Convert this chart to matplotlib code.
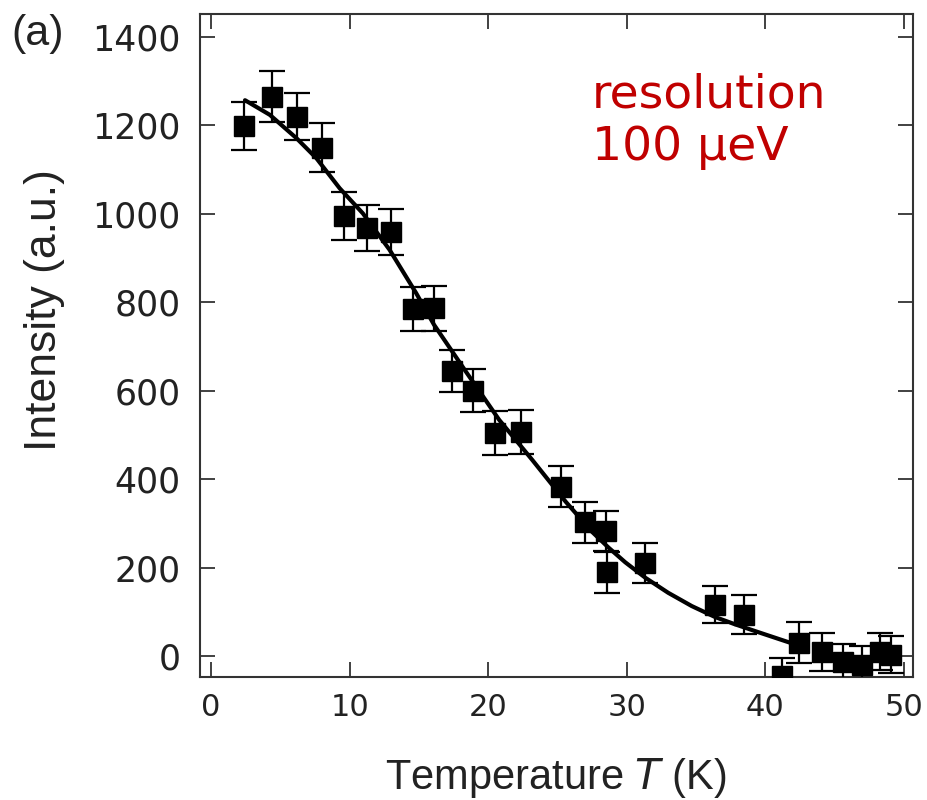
import numpy as np
import matplotlib
matplotlib.use("Agg")
import matplotlib.pyplot as plt

# measured points (temperature in K, intensity in a.u.)
temp = [2.4, 4.4, 6.2, 8.0, 9.6, 11.25, 13.0, 14.55, 16.1, 17.4, 18.9, 20.5,
        22.35, 25.25, 27.0, 28.5, 28.6, 31.3, 36.4, 38.5, 41.2, 42.45, 44.1,
        45.6, 47.0, 48.3, 49.05]
intensity = [1199, 1265, 1220, 1150, 996, 969, 958, 784, 786, 645, 600, 504,
             507, 383, 302, 283, 189, 210, 116, 93, -45, 30, 9, -14, -20, 10, 3]
err = [55, 57, 54, 56, 54, 52, 52, 50, 50, 48, 48, 50, 50, 46, 46, 46, 47,
       45, 42, 44, 40, 46, 44, 42, 42, 42, 42]

# fit curve
fit_t = [2.45, 4.24, 6.17, 7.6, 9.28, 10.96, 12.88, 14.8, 16.1, 18.4, 20.8,
         23.2, 25.6, 27.5, 28.7, 29.9, 31.35, 33.0, 34.7, 36.4, 37.8, 39.5,
         41.9]
fit_i = [1257, 1224, 1171, 1126, 1058, 1001, 919, 821, 749, 643, 534, 443,
         349, 281, 245, 212, 177, 143, 113, 88, 72, 54, 29]

xticks = [0, 10, 20, 30, 40, 50]
yticks = [0, 200, 400, 600, 800, 1000, 1200, 1400]

fig = plt.figure(figsize=(9.28, 8), dpi=100)
ax = fig.add_axes([0.2155, 0.154, 0.768, 0.8285])

ax.plot(fit_t, fit_i, color="black", lw=3, solid_capstyle="round",
        solid_joinstyle="round", zorder=2)
ax.errorbar(temp, intensity, yerr=err, fmt="s", color="black", ms=14,
            ecolor="black", elinewidth=1.6, capsize=9.5, capthick=1.6,
            zorder=3)

ax.set_xlim(-0.8, 50.65)
ax.set_ylim(-47, 1452)
ax.set_xticks(xticks)
ax.set_yticks(yticks)

for s in ax.spines.values():
    s.set_linewidth(1.5)
    s.set_color("#333333")

ax.tick_params(direction="in", length=11, width=1.3, color="#333333",
               top=True, right=True, labelcolor="#222222")
ax.tick_params(axis="y", pad=14, labelsize=25)
ax.tick_params(axis="x", pad=12, labelsize=22)

lab = ["Liberation Sans", "DejaVu Sans"]
ax.set_xlabel("Temperature $\\it{T}$ (K)", fontsize=30, family=lab,
              color="#222222")
ax.set_ylabel("Intensity (a.u.)", fontsize=32, family=lab,
              color="#222222")
ax.xaxis.set_label_coords(0.5, -0.12)
ax.yaxis.set_label_coords(-0.19, 0.553)

ax.text(0.55, 0.911, "resolution\n100 μeV", transform=ax.transAxes,
        fontsize=34, color="#c00000", va="top", ha="left", linespacing=1.2)

fig.text(0.012, 0.982, "(a)", fontsize=31, color="#222222",
         family=lab, va="top", ha="left")

fig.savefig("out.png", dpi=100)
